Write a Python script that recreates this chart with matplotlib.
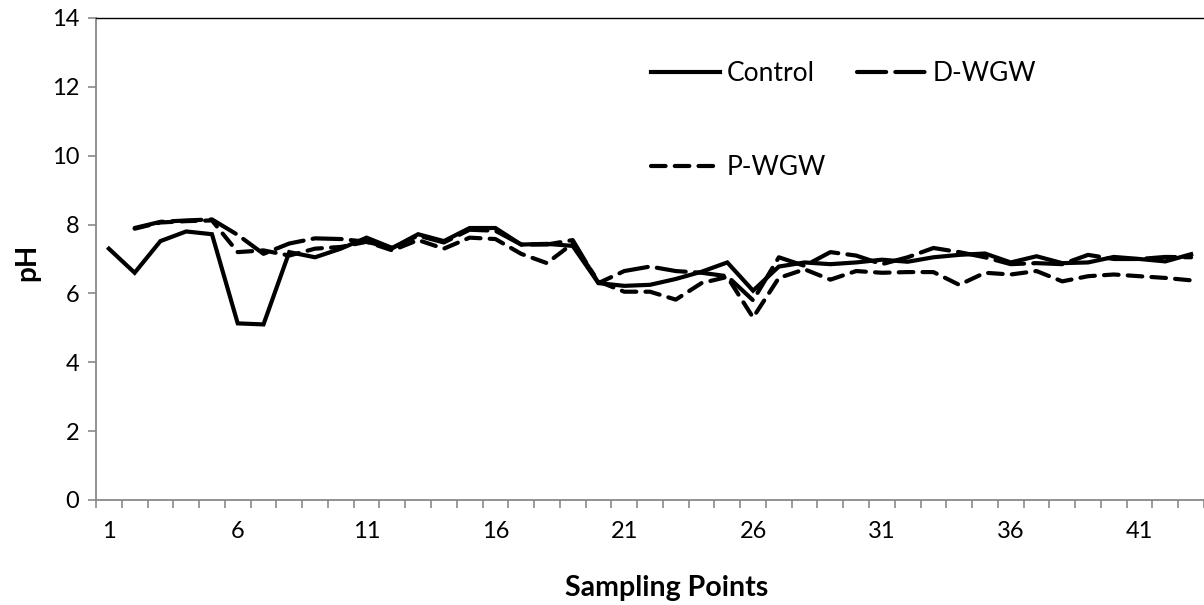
import numpy as np
import matplotlib
matplotlib.use("Agg")
import matplotlib.pyplot as plt

plt.rcParams['font.family'] = ['Lato', 'DejaVu Sans']

# pH at each sampling point
points = list(range(1, 44))
control = [7.3, 6.6, 7.52, 7.8, 7.72, 5.13, 5.1, 7.2, 7.05, 7.3,
           7.62, 7.32, 7.72, 7.52, 7.9, 7.9, 7.42, 7.44, 7.38, 6.3,
           6.22, 6.25, 6.42, 6.63, 6.9, 6.08, 6.78, 6.9, 6.85, 6.9,
           6.98, 6.92, 7.05, 7.12, 7.16, 6.9, 7.08, 6.88, 6.9, 7.06,
           7.0, 6.93, 7.14]
d_wgw = [np.nan, 7.9, 8.08, 8.12, 8.15, 7.7, 7.15, 7.45, 7.6, 7.58,
         7.5, 7.32, 7.68, 7.48, 7.85, 7.82, 7.42, 7.42, 7.55, 6.3,
         6.65, 6.78, 6.65, 6.6, 6.5, 5.8, 7.05, 6.8, 7.2, 7.1,
         6.85, 7.05, 7.32, 7.2, 7.05, 6.85, 6.88, 6.85, 7.12, 7.0,
         7.0, 7.06, 7.05]
p_wgw = [np.nan, 7.88, 8.06, 8.1, 8.12, 7.2, 7.25, 7.1, 7.3, 7.35,
         7.5, 7.25, 7.55, 7.3, 7.62, 7.58, 7.15, 6.88, 7.45, 6.35,
         6.05, 6.05, 5.82, 6.3, 6.48, 5.3, 6.45, 6.7, 6.4, 6.65,
         6.6, 6.62, 6.62, 6.25, 6.6, 6.55, 6.65, 6.35, 6.5, 6.55,
         6.5, 6.45, 6.38]
tick_points = [1, 6, 11, 16, 21, 26, 31, 36, 41]

fig = plt.figure(figsize=(12.04, 6.05), dpi=100)
ax = fig.add_axes([96 / 1204, 105 / 605, 1108 / 1204, 482 / 605])

lw = 3.0
l_ctrl, = ax.plot(points, control, color='black', lw=lw, solid_joinstyle='miter',
                  label='Control')
l_d, = ax.plot(points, d_wgw, color='black', lw=lw, linestyle=(0, (7, 2.2)),
               dash_capstyle='round', label='D-WGW')
l_p, = ax.plot(points, p_wgw, color='black', lw=lw, linestyle=(0, (3.5, 2.2)),
               dash_capstyle='round', label='P-WGW')

ax.set_xlim(0.5, 43.5)
ax.set_ylim(0, 14)
ax.set_yticks(range(0, 15, 2))
ax.set_xticks(tick_points)
ax.set_xticks(np.arange(0.5, 44, 1), minor=True)

# axis look like the spreadsheet original
for s in ['left', 'bottom']:
    ax.spines[s].set_color('#898989')
    ax.spines[s].set_linewidth(1.3)
ax.spines['top'].set_color('black')
ax.spines['top'].set_linewidth(1.0)
ax.spines['right'].set_visible(False)
ax.tick_params(axis='y', direction='out', length=6, width=1.2, color='#898989',
               labelsize=17, pad=6)
ax.tick_params(axis='x', which='major', length=0, labelsize=17, pad=15)
ax.tick_params(axis='x', which='minor', direction='out', length=6, width=1.2,
               color='#898989')

ax.set_xlabel('Sampling Points', fontsize=20.5, fontweight='bold')
ax.xaxis.set_label_coords(0.515, -0.183)
ax.xaxis.label.set_va('center')
ax.set_ylabel('pH', fontsize=20, fontweight='bold')
ax.yaxis.set_label_coords(-0.062, 0.494)
ax.yaxis.label.set_va('center')

ax.legend([l_ctrl, l_p, l_d], ['Control', 'P-WGW', 'D-WGW'], ncol=2,
          loc='upper left', bbox_to_anchor=(0.501, 0.910), frameon=False,
          fontsize=19, handlelength=2.6, handletextpad=0.25,
          columnspacing=1.2, labelspacing=2.6, borderpad=0, borderaxespad=0)

fig.savefig('out.png', dpi=100)
